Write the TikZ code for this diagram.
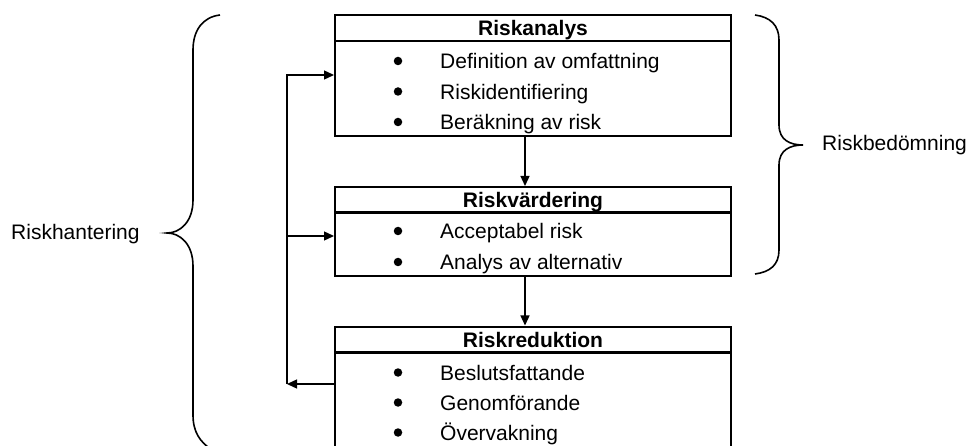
\documentclass[tikz,border=0pt]{standalone}
\usepackage{fontspec}
\setmainfont{Liberation Sans}
\usetikzlibrary{arrows.meta}
\begin{document}
\begin{tikzpicture}[x=1pt,y=-1pt,
  every node/.style={font=\fontsize{21pt}{25pt}\selectfont},
  hdr/.style={draw,line width=2pt,minimum width=396pt,minimum height=26pt,inner sep=0pt,
    font=\fontsize{21pt}{25pt}\selectfont\bfseries,text height=15pt,text depth=0pt},
  body/.style={draw,line width=2pt,minimum width=396pt,inner sep=0pt},
  item/.style={anchor=base west,inner sep=0pt},
  bul/.style={circle,fill,inner sep=0pt,minimum size=8.5pt},
  lbl/.style={anchor=base west,inner sep=0pt},
  arr/.style={line width=1.3pt,-{Triangle[length=10pt,width=9pt]}},
  brace/.style={line width=1.6pt}]
\useasboundingbox (0,0) rectangle (969,446);
\clip (0,0) rectangle (969,446);

% Riskanalys
\node[hdr] (h1) at (533,28) {Riskanalys};
\node[body,minimum height=95pt] (b1) at (533,88.5) {};
\node[bul] (d11) at (398,61) {};
\node[item] (t11) at (440,69) {Definition av omfattning};
\node[bul] (d12) at (398,91.5) {};
\node[item] (t12) at (440,99.5) {Riskidentifiering};
\node[bul] (d13) at (398,122) {};
\node[item] (t13) at (440,130) {Beräkning av risk};

% Riskvärdering
\node[hdr] (h2) at (533,200) {Riskvärdering};
\node[body,minimum height=64pt] (b2) at (533,244) {};
\node[bul] (d21) at (398,231) {};
\node[item] (t21) at (440,239) {Acceptabel risk};
\node[bul] (d22) at (398,262) {};
\node[item] (t22) at (440,270) {Analys av alternativ};

% Riskreduktion
\node[hdr] (h3) at (533,339.5) {Riskreduktion};
\node[body,minimum height=110pt] (b3) at (533,407) {};
\node[bul] (d31) at (398,372.5) {};
\node[item] (t31) at (440,380.5) {Beslutsfattande};
\node[bul] (d32) at (398,402.5) {};
\node[item] (t32) at (440,410.5) {Genomförande};
\node[bul] (d33) at (398,432.5) {};
\node[item] (t33) at (440,440.5) {Övervakning};

% flow between the stages
\draw[arr] ([xshift=-8pt]b1.south) -- ([xshift=-8pt]h2.north);
\draw[arr] ([xshift=-8pt]b2.south) -- ([xshift=-8pt]h3.north);

% feedback loop
\coordinate (fbBot) at (287,384);
\coordinate (fbTop) at (287,75);
\coordinate (fbMid) at (287,236);
\draw[arr] (b3.west |- fbBot) -- (fbBot);
\draw[arr] (fbBot) -- (fbTop) -- (fbTop -| b1.west);
\draw[arr] (fbMid) -- (fbMid -| b2.west);

% braces and their labels
\draw[brace] (220,15) .. controls (203,17) and (193,30) .. (193,50) -- (193,200)
  .. controls (193,222) and (180,233) .. (167,233)
  .. controls (180,233) and (193,244) .. (193,266) -- (193,415)
  .. controls (193,432) and (200,442) .. (212,450);
\node[lbl] (rh) at (11,240) {Riskhantering};

\draw[brace] (755,15) .. controls (770,17) and (779,25) .. (779,40) -- (779,125)
  .. controls (779,140) and (790,145) .. (803,145)
  .. controls (790,145) and (779,150) .. (779,165) -- (779,250)
  .. controls (779,265) and (770,272) .. (755,274);
\node[lbl] (rb) at (822,151) {Riskbedömning};
\end{tikzpicture}
\end{document}
